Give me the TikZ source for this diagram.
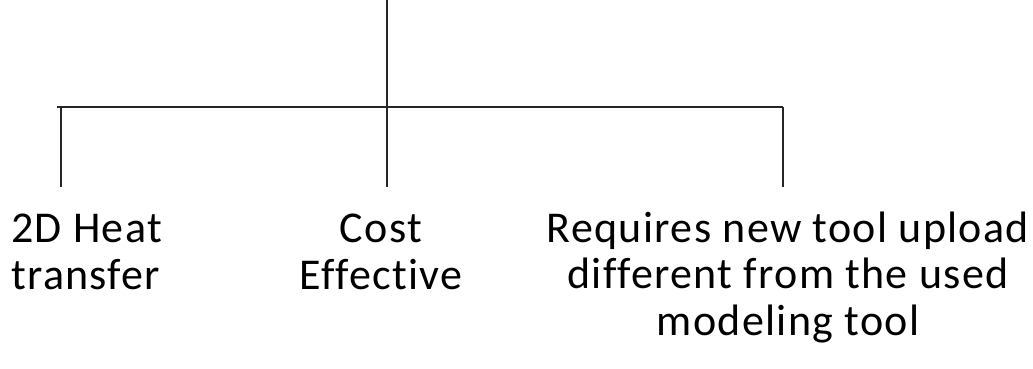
\documentclass[tikz,border=0pt]{standalone}
\usepackage{fontspec}
\setmainfont{Carlito}[Ligatures=NoCommon,LetterSpace=3]
\begin{document}
\begin{tikzpicture}[x=1pt,y=-1pt,
  branch/.style={line width=1.6pt,draw=black!85},
  label/.style={font=\fontsize{44}{46.5}\selectfont,inner sep=0pt,anchor=base},
]
\path[use as bounding box] (0,0) rectangle (1033,369);
% tree skeleton
\coordinate (top) at (387,0);
\coordinate (hub) at (387,107);
\coordinate (lft) at (61,107);
\coordinate (lftStart) at (57,107);
\coordinate (rgt) at (783,107);
\coordinate (lftEnd) at (61,187);
\coordinate (midEnd) at (387,187);
\coordinate (rgtEnd) at (783,187);
\draw[branch] (top) -- (midEnd);
\draw[branch] (lftStart) -- (rgt);
\draw[branch] (lft) -- (lftEnd);
\draw[branch] (rgt) -- (rgtEnd);
% leaf labels (anchored at the baseline of their last line)
\node[label,align=left,anchor=base west] (heat) at (11,289) {2D Heat\\transfer};
\node[label,align=center] (cost) at (381,289) {Cost\\Effective};
\node[label,align=center] (tool) at (788,335) {Requires new tool upload\\different from the used\\modeling tool};
\end{tikzpicture}
\end{document}
